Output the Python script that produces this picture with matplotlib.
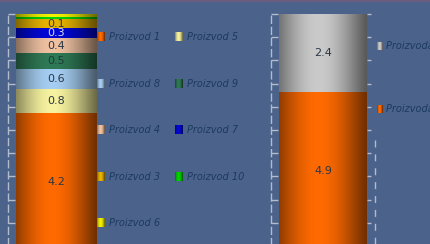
import numpy as np
import matplotlib
matplotlib.use("Agg")
import matplotlib.pyplot as plt
from matplotlib.lines import Line2D
from matplotlib.colors import to_rgb

# ---------------- data ----------------
left_series = ["Proizvod 1", "Proizvod 5", "Proizvod 8", "Proizvod 9", "Proizvod 4",
               "Proizvod 7", "Proizvod 3", "Proizvod 10", "Proizvod 6"]
# segment heights
left_values = [4.25, 0.72, 0.62, 0.49, 0.46, 0.31, 0.28, 0.07, 0.09]
# value labels as printed on the chart
left_labels = ["4.2", "0.8", "0.6", "0.5", "0.4", "0.3", "0.1", "", ""]
left_colors = ["#ff6a00", "#f6f2a0", "#a6cef2", "#2f7a56", "#f0c2a2",
               "#0008d8", "#e8b400", "#00d400", "#f2f200"]
left_label_colors = ["#2a3644", "#2a3644", "#2a3644", "#1f3a3a", "#2a3644",
                     "#d8dcf0", "#2a3644", "#2a3644", "#2a3644"]

right_series = ["Proizvodač 1", "Proizvodač 2"]
right_values = [4.9, 2.4]
right_labels = ["4.9", "2.4"]
right_colors = ["#ff6a00", "#cacaca"]

BG = "#4b628a"
TEXT = "#1c3a60"
AXC = "#b4bccc"

W, H = 431, 244
fig = plt.figure(figsize=(W / 100, H / 100), dpi=100, facecolor=BG)


def profile(n=64):
    t = np.linspace(0, 1, n)
    return 0.42 + 0.58 * np.clip(np.cos((t - 0.45) * np.pi / 1.15), 0, 1) ** 1.2


def gradient(color, n=64):
    c = np.array(to_rgb(color))
    p = profile(n)[:, None]
    return np.clip(c[None, :] * p, 0, 1)[None, :, :]


def panel(x0, x1, bar_x0, values, labels, colors, label_colors, right_ticks=False):
    base_y = 251
    top_y = 14
    ax = fig.add_axes([x0 / W, (H - base_y) / H, (x1 - x0) / W, (base_y - top_y) / H])
    ax.set_facecolor("none")
    total = sum(values)
    bottoms = np.concatenate([[0], np.cumsum(values)[:-1]])
    bars = []
    for v, b, c in zip(values, bottoms, colors):
        cont = ax.bar(0, v, bottom=b, width=1, align="edge", color=c, linewidth=0)
        bars.append(cont)
        p = cont.patches[0]
        ax.imshow(gradient(c), extent=[p.get_x(), p.get_x() + p.get_width(),
                                       p.get_y(), p.get_y() + p.get_height()],
                  aspect="auto", interpolation="bilinear", zorder=2)
    for cont, lab, lc in zip(bars, labels, label_colors):
        if lab:
            ax.bar_label(cont, labels=[lab], label_type="center",
                         fontsize=8, color=lc, zorder=5)
    frac = (bar_x0 - x0) / (x1 - bar_x0)
    ax.set_xlim(-frac, 1)
    ax.set_ylim(0, total)
    ticks_px = [14 + k * 23.2 for k in range(11)]
    ticks = [total * (base_y - y) / (base_y - top_y) for y in ticks_px]
    ax.set_yticks(ticks)
    ax.set_yticklabels([])
    ax.set_xticks([])
    for s in ["top", "bottom", "right"]:
        ax.spines[s].set_visible(False)
    ax.spines["left"].set_color(AXC)
    ax.spines["left"].set_linestyle((0, (5, 3)))
    ax.spines["left"].set_linewidth(1)
    ax.tick_params(axis="y", direction="in", length=5, width=1, color=AXC,
                   left=True, right=False)
    if right_ticks:
        ax2 = ax.secondary_yaxis("right")
        ax2.set_yticks(ticks)
        ax2.set_yticklabels([])
        ax2.spines["right"].set_visible(False)
        ax2.tick_params(axis="y", direction="out", length=3, width=1, color=AXC)
    return ax


panel(8, 97, 16, left_values, left_labels, left_colors, left_label_colors)
panel(271, 367, 279, right_values, right_labels, right_colors,
      ["#2a3644", "#2a3644"], right_ticks=True)

# dashed line on the right
fig.add_artist(Line2D([375 / W, 375 / W], [1 - 140 / H, 0], color=AXC, lw=1,
                      linestyle=(0, (5, 5))))


def marker(x, y, color, w=8, h=9):
    c = np.array(to_rgb(color))
    t = np.linspace(0, 1, w)
    p = 0.45 + 0.55 * np.clip(np.cos((t - 0.45) * np.pi / 1.15), 0, 1)
    row = np.clip(c[None, :] * p[:, None], 0, 1)
    arr = np.repeat(row[None, :, :], h, axis=0)
    fig.figimage(arr, xo=x, yo=H - y - h // 2, origin="upper", zorder=5)


# left legend (row-major, 2 columns)
rows_y = [37, 84, 130, 177, 223]
cols_x = [97, 175]
for i, (name, col) in enumerate(zip(left_series, left_colors)):
    r, cidx = divmod(i, 2)
    x = cols_x[cidx]
    y = rows_y[r]
    marker(x, y, col)
    fig.text((x + 12) / W, 1 - y / H, name, fontsize=7, style="italic",
             color=TEXT, va="center", ha="left")

# right legend (last series first)
for (name, col), y in zip(list(zip(right_series, right_colors))[::-1], [46, 109]):
    marker(377, y, col, w=6, h=8)
    fig.text(386 / W, 1 - y / H, name, fontsize=7, style="italic",
             color=TEXT, va="center", ha="left")

fig.add_artist(Line2D([0, 1], [1 - 0.5 / H] * 2, color="#6c5c80", lw=1.5))

fig.savefig("out.png", dpi=100, facecolor=BG)
